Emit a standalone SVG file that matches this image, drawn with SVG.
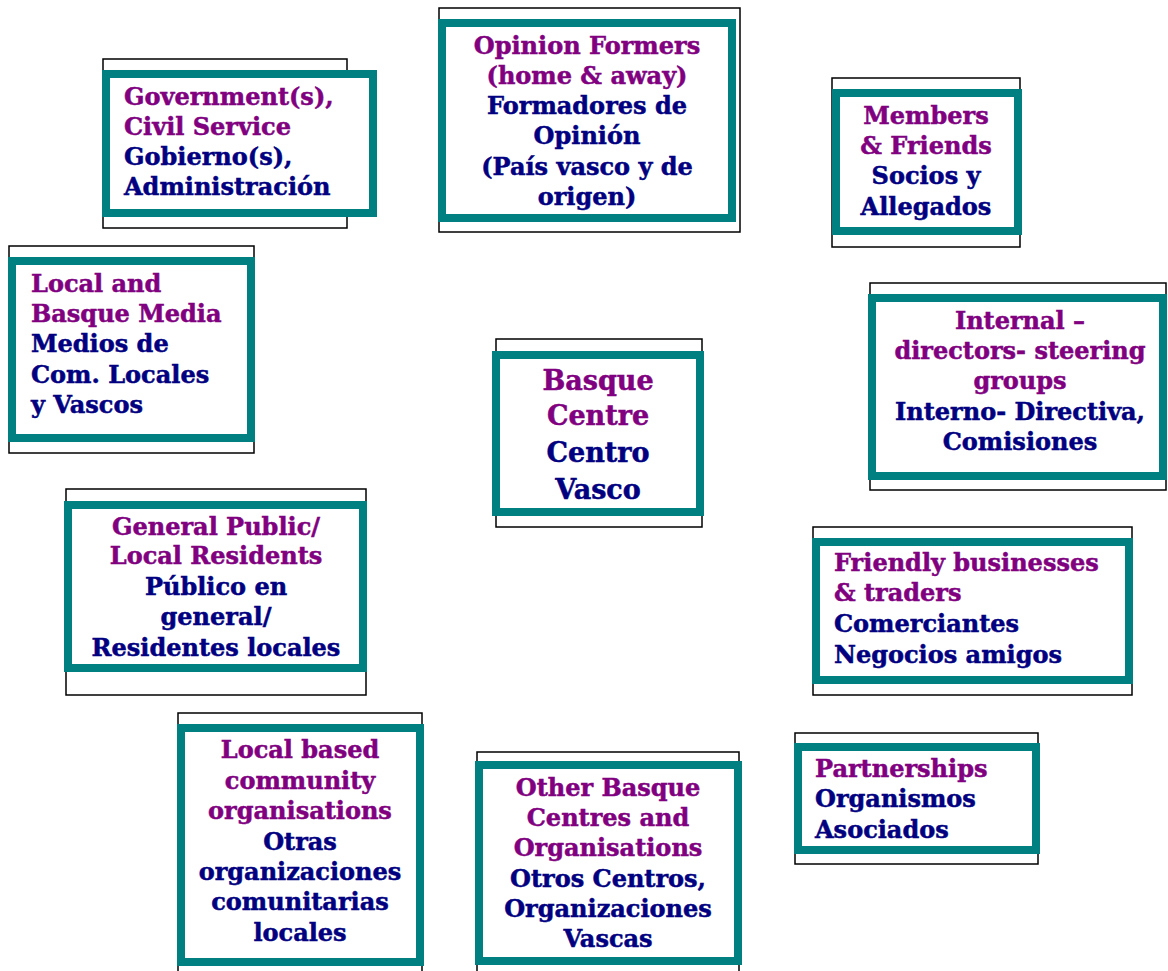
<svg xmlns="http://www.w3.org/2000/svg" width="1168" height="971" viewBox="0 0 1168 971">
<style>
.frame{fill:#fff;stroke:#000;stroke-width:1.5}
.box{fill:#fff;stroke:#008080;stroke-width:8}
text{font-family:"DejaVu Serif","Liberation Serif",serif;font-weight:bold;font-size:24px;stroke-width:0.5}
.c{text-anchor:middle}
.en{fill:#800080;stroke:#800080}
.es{fill:#000080;stroke:#000080}
.big{font-size:27px}
</style>
<rect width="1168" height="971" fill="#fff"/>
<g id="connectors"></g>

<g id="government">
<rect class="frame" x="103" y="59" width="244" height="169"/>
<rect class="box" x="106" y="74" width="267" height="139"/>
<text x="124" y="105" class="en">Government(s),</text>
<text x="124" y="135" class="en">Civil Service</text>
<text x="124" y="165" class="es">Gobierno(s),</text>
<text x="124" y="195" class="es">Administración</text>
</g>

<g id="opinion">
<rect class="frame" x="439" y="8" width="301" height="224"/>
<rect class="box" x="442" y="23" width="290" height="195"/>
<text x="587" y="54" class="c en">Opinion Formers</text>
<text x="587" y="84" class="c en">(home &amp; away)</text>
<text x="587" y="114" class="c es">Formadores de</text>
<text x="587" y="144" class="c es">Opinión</text>
<text x="587" y="175" class="c es">(País vasco y de</text>
<text x="587" y="205" class="c es">origen)</text>
</g>

<g id="members">
<rect class="frame" x="832" y="78" width="188" height="169"/>
<rect class="box" x="836" y="93" width="182" height="138"/>
<text x="926" y="124" class="c en">Members</text>
<text x="926" y="154" class="c en">&amp; Friends</text>
<text x="926" y="184" class="c es">Socios y</text>
<text x="926" y="215" class="c es">Allegados</text>
</g>

<g id="media">
<rect class="frame" x="9" y="246" width="245" height="207"/>
<rect class="box" x="12" y="261" width="239" height="177"/>
<text x="31" y="292" class="en">Local and</text>
<text x="31" y="322" class="en">Basque Media</text>
<text x="31" y="352" class="es">Medios de</text>
<text x="31" y="383" class="es">Com. Locales</text>
<text x="31" y="413" class="es">y Vascos</text>
</g>

<g id="centre">
<rect class="frame" x="496" y="339" width="206" height="188"/>
<rect class="box" x="496" y="355" width="204" height="157"/>
<text x="598" y="390" class="c en big">Basque</text>
<text x="598" y="425" class="c en big">Centre</text>
<text x="598" y="462" class="c es big">Centro</text>
<text x="598" y="499" class="c es big">Vasco</text>
</g>

<g id="internal">
<rect class="frame" x="870" y="283" width="296" height="207"/>
<rect class="box" x="872" y="298" width="291" height="178"/>
<text x="1020" y="329" class="c en">Internal –</text>
<text x="1020" y="359" class="c en">directors- steering</text>
<text x="1020" y="389" class="c en">groups</text>
<text x="1020" y="420" class="c es">Interno- Directiva,</text>
<text x="1020" y="450" class="c es">Comisiones</text>
</g>

<g id="public">
<rect class="frame" x="66" y="489" width="300" height="206"/>
<rect class="box" x="68" y="505" width="295" height="163"/>
<text x="216" y="535" class="c en">General Public/</text>
<text x="216" y="564" class="c en">Local Residents</text>
<text x="216" y="595" class="c es">Público en</text>
<text x="216" y="625" class="c es">general/</text>
<text x="216" y="656" class="c es">Residentes locales</text>
</g>

<g id="businesses">
<rect class="frame" x="813" y="527" width="319" height="168"/>
<rect class="box" x="816" y="542" width="313" height="138"/>
<text x="834" y="571" class="en">Friendly businesses</text>
<text x="834" y="601" class="en">&amp; traders</text>
<text x="834" y="632" class="es">Comerciantes</text>
<text x="834" y="663" class="es">Negocios amigos</text>
</g>

<g id="community">
<rect class="frame" x="178" y="713" width="244" height="270"/>
<rect class="box" x="181" y="728" width="239" height="234"/>
<text x="300" y="758" class="c en">Local based</text>
<text x="300" y="789" class="c en">community</text>
<text x="300" y="819" class="c en">organisations</text>
<text x="300" y="850" class="c es">Otras</text>
<text x="300" y="880" class="c es">organizaciones</text>
<text x="300" y="910" class="c es">comunitarias</text>
<text x="300" y="941" class="c es">locales</text>
</g>

<g id="otherbasque">
<rect class="frame" x="477" y="752" width="262" height="231"/>
<rect class="box" x="479" y="765" width="259" height="196"/>
<text x="608" y="796" class="c en">Other Basque</text>
<text x="608" y="826" class="c en">Centres and</text>
<text x="608" y="856" class="c en">Organisations</text>
<text x="608" y="887" class="c es">Otros Centros,</text>
<text x="608" y="917" class="c es">Organizaciones</text>
<text x="608" y="947" class="c es">Vascas</text>
</g>

<g id="partnerships">
<rect class="frame" x="795" y="733" width="243" height="131"/>
<rect class="box" x="798" y="747" width="238" height="103"/>
<text x="815" y="777" class="en">Partnerships</text>
<text x="815" y="807" class="es">Organismos</text>
<text x="815" y="838" class="es">Asociados</text>
</g>
</svg>
